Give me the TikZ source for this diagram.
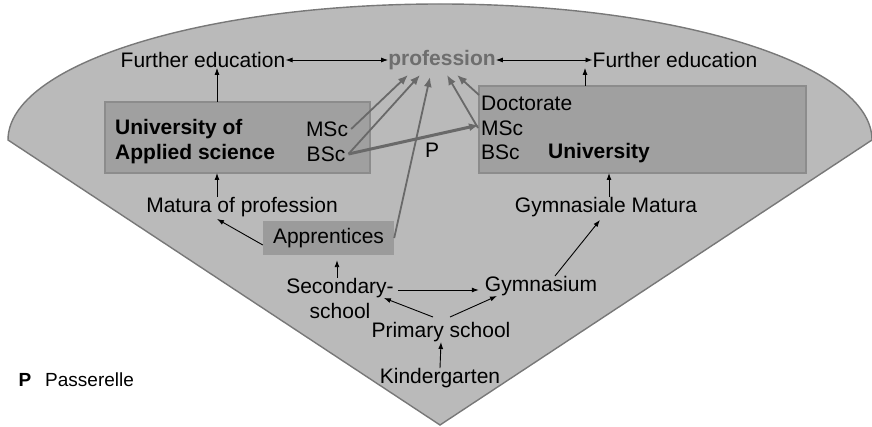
\documentclass[tikz,border=0pt]{standalone}
\usepackage{fontspec}
\setmainfont{Liberation Sans}
\usetikzlibrary{arrows.meta}

\definecolor{fangray}{RGB}{186,186,186}
\definecolor{fanline}{RGB}{120,120,120}
\definecolor{boxgray}{RGB}{160,160,160}
\definecolor{boxline}{RGB}{140,140,140}
\definecolor{profgray}{RGB}{110,110,110}
\definecolor{arrgray}{RGB}{105,105,105}

\begin{document}
\begin{tikzpicture}[x=1pt,y=-1pt,
  every node/.style={font=\fontsize{21}{25}\selectfont,inner sep=0pt},
  box/.style={fill=boxgray,draw=boxline,line width=1.2pt},
  arr/.style={-{Latex[length=7pt,width=5pt]},line width=0.9pt},
  dbl/.style={{Latex[length=7pt,width=5pt]}-{Latex[length=7pt,width=5pt]},line width=0.9pt},
  grayarr/.style={-{Latex[length=10pt,width=8pt]},line width=1.8pt,draw=arrgray,fill=arrgray}]
\useasboundingbox (0,0) rectangle (872,427);

% le fond
\filldraw[fill=fangray,draw=fanline,line width=1.4pt] (8,140) arc[start angle=180,end angle=360,x radius=432,y radius=136] -- (440,425) -- cycle;

% boites
\node[box,minimum width=265pt,minimum height=71pt] (uas) at (237.5,137.5) {};
\node[box,minimum width=327pt,minimum height=87pt] (uni) at (642.5,129.5) {};
\node[fill=boxgray!105,minimum width=131pt,minimum height=34pt] (appr) at (328.5,238) {Apprentices};

% haut
\node (fedL) at (203,60) {Further education};
\node[text=profgray,font=\fontsize{21}{25}\selectfont\bfseries] (prof) at (442,60) {profession};
\node (fedR) at (675,60) {Further education};
\draw[dbl] (fedL.east) -- (prof.west);
\draw[dbl] (prof.east) -- (fedR.west);

% textes des boites
\node[anchor=west,align=left,font=\fontsize{21}{25}\selectfont\bfseries] (uasT) at (115,142) {University of\\Applied science};
\node (mscL) at (327,129) {MSc};
\node (bscL) at (326,154) {BSc};
\node[anchor=west] (docR) at (481,103) {Doctorate};
\node[anchor=west] (mscR) at (481,128) {MSc};
\node[anchor=west] (bscR) at (481,152) {BSc};
\node[font=\fontsize{21}{25}\selectfont\bfseries] (uniT) at (599,153) {University};
\node (pas) at (432,150) {P};

% ecoles
\node (matP) at (242,207) {Matura of profession};
\node (gymM) at (606,207) {Gymnasiale Matura};
\node[align=center] (sec) at (340,298) {Secondary-\\school};
\node (gym) at (541,286) {Gymnasium};
\node (prim) at (441,332) {Primary school};
\node (kind) at (440,378) {Kindergarten};

% legende
\node[font=\fontsize{19}{23}\selectfont\bfseries] (legP) at (25,380) {P};
\node[anchor=west,font=\fontsize{19}{23}\selectfont] (legT) at (45,380) {Passerelle};

% fleches noires
\coordinate (uasTop) at (217,102);
\coordinate (uasBot) at (217,173);
\coordinate (uniTop) at (585,86);
\coordinate (uniBot) at (609,173);
\draw[arr] (uasTop) -- (uasTop |- fedL.south);
\draw[arr] (uniTop) -- (uniTop |- fedR.south);
\draw[arr] (uasBot |- matP.north) -- (uasBot);
\draw[arr] (uniBot |- gymM.north) -- (uniBot);
\draw[arr] ([yshift=-7pt]appr.west) -- ([yshift=-2pt]uasBot |- matP.south);
\draw[arr,shorten >=5pt] (sec.north -| 337,0) -- (appr.south -| 337,0);
\draw[arr,shorten >=6pt] ([xshift=4pt,yshift=-4pt]sec.east |- gym.center) -- ([yshift=-4pt]gym.west);
\draw[arr] ([xshift=-8pt,yshift=5pt]prim.north) -- ([xshift=-10pt]sec.east);
\draw[arr] ([xshift=9pt,yshift=5pt]prim.north) -- ([xshift=-44pt]gym.south);
\draw[arr] ([xshift=14pt]gym.north) -- ([xshift=-6pt,yshift=-3pt]gymM.south);
\draw[arr] (kind.north) -- (prim.south);

% fleches grises vers profession
\draw[grayarr] ([xshift=3pt]mscL.east) -- ([xshift=-34pt,yshift=-5pt]prof.south);
\draw[grayarr] ([xshift=3pt]bscL.east) -- ([xshift=-22pt,yshift=-5pt]prof.south);
\draw[grayarr] (appr.east) -- ([xshift=-12pt,yshift=-7pt]prof.south);
\draw[grayarr] ([xshift=-3pt]mscR.west) -- ([xshift=5pt,yshift=-5pt]prof.south);
\draw[grayarr] ([xshift=-2pt,yshift=8pt]docR.west) -- ([xshift=15pt,yshift=-5pt]prof.south);
\draw[grayarr,line width=3pt] ([xshift=3pt]bscL.east) -- ([xshift=-2pt,yshift=3pt]mscR.west);

\end{tikzpicture}
\end{document}
